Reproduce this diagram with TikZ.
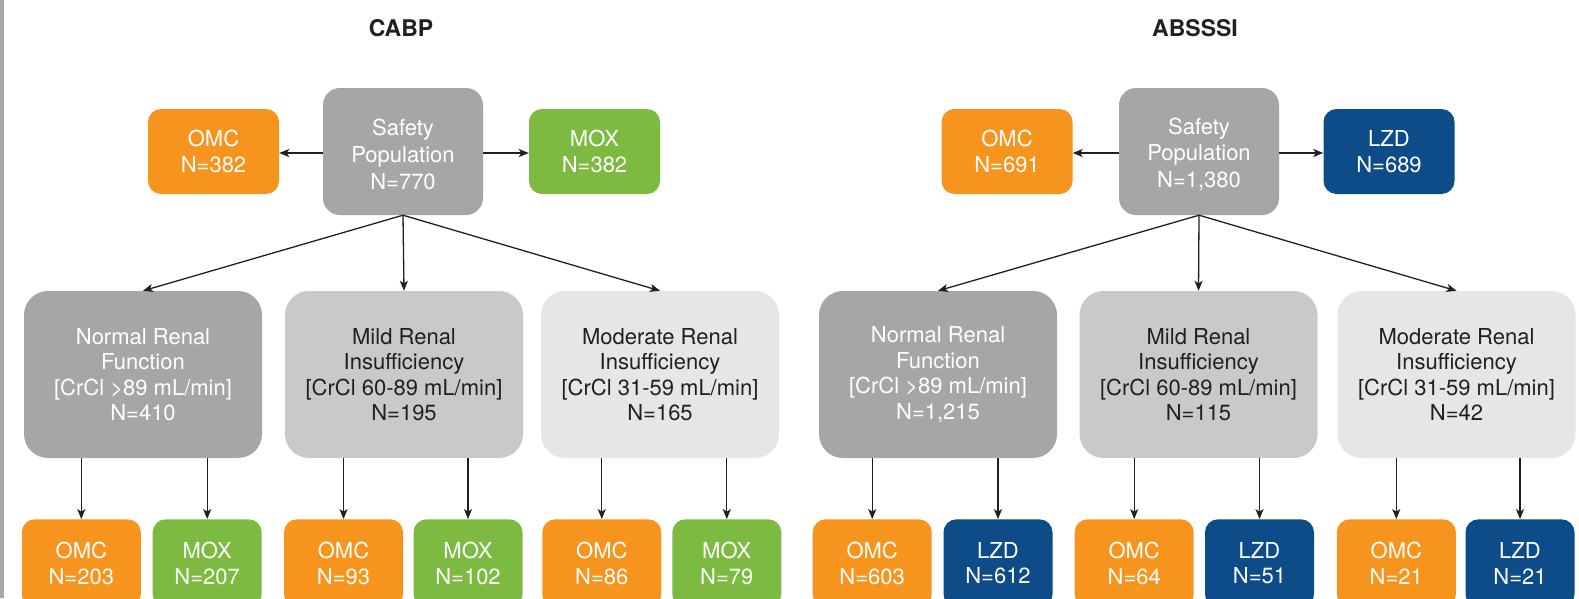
\documentclass[tikz,border=0pt]{standalone}
\usepackage{fontspec}
\setmainfont{TeX Gyre Heros}
\usetikzlibrary{arrows.meta}
\definecolor{omc}{HTML}{F7941E}
\definecolor{mox}{HTML}{7DBA42}
\definecolor{lzd}{HTML}{0D4C88}
\definecolor{gdark}{HTML}{A6A6A6}
\definecolor{gmid}{HTML}{CAC9C8}
\definecolor{glight}{HTML}{E6E6E5}
\definecolor{ink}{HTML}{231F20}
\definecolor{barg}{HTML}{A9A9A9}
\newcommand{\topstrut}{\rule{0pt}{22pt}}
\begin{document}
\begin{tikzpicture}[x=1pt,y=-1pt,
  box/.style={rectangle, align=center, inner sep=0pt, font=\fontsize{22}{25.5}\selectfont},
  topbox/.style={box, rounded corners=13pt, minimum width=131pt, minimum height=85pt, text=white},
  safebox/.style={box, rounded corners=17pt, minimum width=160pt, minimum height=127pt, fill=gdark, text=white, font=\fontsize{22}{26.7}\selectfont},
  midbox/.style={box, rounded corners=24pt, minimum width=238pt, minimum height=167pt},
  omcbox/.style={box, rounded corners=13pt, minimum width=119pt, minimum height=88pt, fill=omc, text=white},
  armbox/.style={box, rounded corners=13pt, minimum width=109pt, minimum height=88pt, text=white},
  title/.style={font=\fontsize{23}{27}\selectfont\bfseries, text=ink, inner sep=0pt},
  arr/.style={draw=ink, line width=1.3pt, -{Stealth[length=10pt,width=8pt,inset=2.5pt]}}
]
\useasboundingbox (0,0) rectangle (1579,598);
\clip (0,0) rectangle (1579,598);
\fill[white] (0,0) rectangle (1579,598);
\fill[barg] (0,0) rectangle (4,598);

% CABP
\node[title] (t1) at (401,28) {CABP};
\node[safebox] (s1) at (403,151.5) {\topstrut Safety\\Population\\N=770};
\node[topbox, fill=omc] (o1) at (213.5,151.5) {OMC\\N=382};
\node[topbox, fill=mox] (m1) at (594.5,151.5) {MOX\\N=382};
\node[midbox, fill=gdark, text=white] (n1) at (143,374.5) {Normal Renal\\Function\\{[}CrCl >89 mL/min{]}\\N=410};
\node[midbox, fill=gmid, text=ink] (n2) at (404,374.5) {Mild Renal\\Insufficiency\\{[}CrCl 60-89 mL/min{]}\\N=195};
\node[midbox, fill=glight, text=ink] (n3) at (660,374.5) {Moderate Renal\\Insufficiency\\{[}CrCl 31-59 mL/min{]}\\N=165};
\node[omcbox] (b1) at (81.3,563.3) {OMC\\N=203};
\node[armbox, fill=mox] (b2) at (207.2,563.3) {MOX\\N=207};
\node[omcbox] (b3) at (343.5,563.3) {OMC\\N=93};
\node[armbox, fill=mox] (b4) at (468,563.3) {MOX\\N=102};
\node[omcbox] (b5) at (601.8,563.3) {OMC\\N=86};
\node[armbox, fill=mox] (b6) at (726.8,563.3) {MOX\\N=79};

% ABSSSI
\node[title] (t2) at (1195,28) {ABSSSI};
\node[safebox] (s2) at (1199,151.5) {\topstrut Safety\\Population\\N=1,380};
\node[topbox, fill=omc] (o2) at (1007,151.5) {OMC\\N=691};
\node[topbox, fill=lzd] (l2) at (1389,151.5) {LZD\\N=689};
\node[midbox, fill=gdark, text=white] (n4) at (938,374.5) {Normal Renal\\Function\\{[}CrCl >89 mL/min{]}\\N=1,215};
\node[midbox, fill=gmid, text=ink] (n5) at (1198.5,374.5) {Mild Renal\\Insufficiency\\{[}CrCl 60-89 mL/min{]}\\N=115};
\node[midbox, fill=glight, text=ink] (n6) at (1456.5,374.5) {Moderate Renal\\Insufficiency\\{[}CrCl 31-59 mL/min{]}\\N=42};
\node[omcbox] (c1) at (872.2,563.3) {OMC\\N=603};
\node[armbox, fill=lzd] (c2) at (998,563.3) {LZD\\N=612};
\node[omcbox] (c3) at (1134.2,563.3) {OMC\\N=64};
\node[armbox, fill=lzd] (c4) at (1259.5,563.3) {LZD\\N=51};
\node[omcbox] (c5) at (1396.3,563.3) {OMC\\N=21};
\node[armbox, fill=lzd] (c6) at (1520,563.3) {LZD\\N=21};

% connectors CABP
\draw[arr] (s1.west |- 0,153) -- (o1.east |- 0,153);
\draw[arr] (s1.east |- 0,153) -- (m1.west |- 0,153);
\draw[arr] (s1.south) -- (n1.north);
\draw[arr] (s1.south) -- (n2.north);
\draw[arr] (s1.south) -- (n3.north);
\draw[arr] (b1.north |- n1.south) -- (b1.north);
\draw[arr] (b2.north |- n1.south) -- (b2.north);
\draw[arr] (b3.north |- n2.south) -- (b3.north);
\draw[arr] (b4.north |- n2.south) -- (b4.north);
\draw[arr] (b5.north |- n3.south) -- (b5.north);
\draw[arr] (b6.north |- n3.south) -- (b6.north);

% connectors ABSSSI
\draw[arr] (s2.west |- 0,153) -- (o2.east |- 0,153);
\draw[arr] (s2.east |- 0,153) -- (l2.west |- 0,153);
\draw[arr] (s2.south) -- (n4.north);
\draw[arr] (s2.south) -- (n5.north);
\draw[arr] (s2.south) -- (n6.north);
\draw[arr] (c1.north |- n4.south) -- (c1.north);
\draw[arr] (c2.north |- n4.south) -- (c2.north);
\draw[arr] (c3.north |- n5.south) -- (c3.north);
\draw[arr] (c4.north |- n5.south) -- (c4.north);
\draw[arr] (c5.north |- n6.south) -- (c5.north);
\draw[arr] (c6.north |- n6.south) -- (c6.north);
\end{tikzpicture}
\end{document}
